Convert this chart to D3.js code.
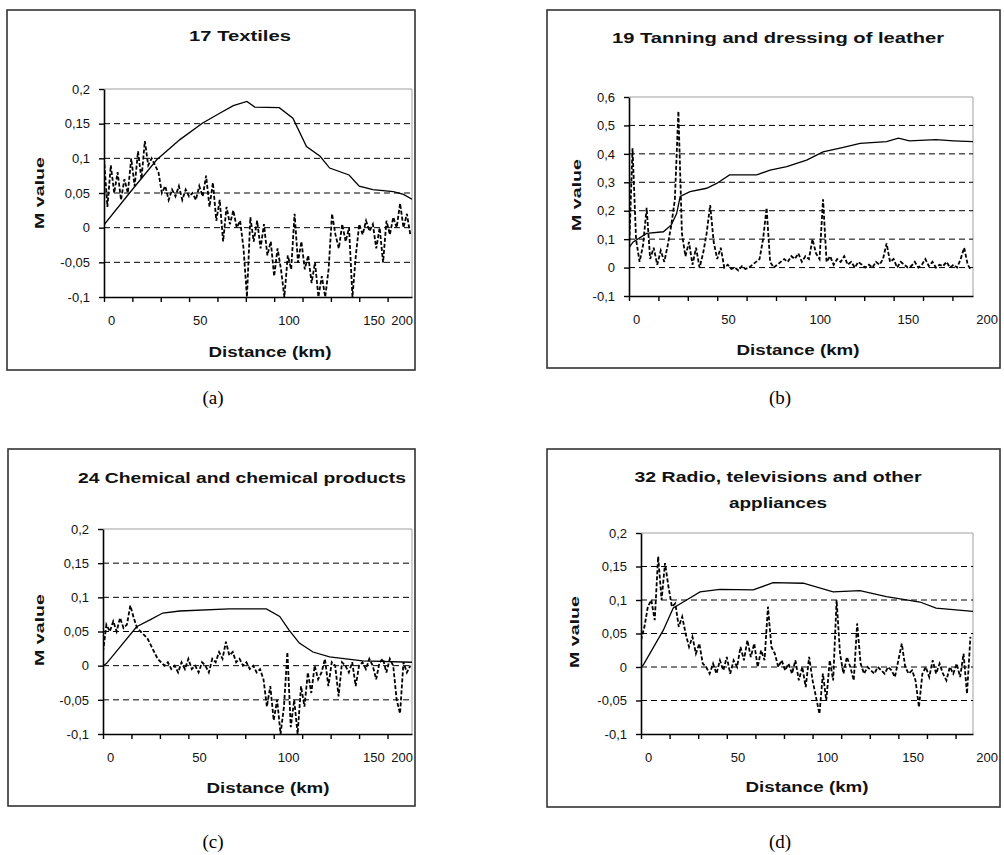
<!DOCTYPE html>
<html>
<head>
<meta charset="utf-8">
<script src="https://cdnjs.cloudflare.com/ajax/libs/d3/7.8.5/d3.min.js"></script>
<style>
  body { margin: 0; background: #fff; }
  svg { display: block; font-family: "Liberation Sans", Arial, sans-serif; }
</style>
</head>
<body>
<svg id="chart" width="1004" height="855"></svg>
<script>
// ---- data ----
// distances (km) of the noisy M value series, one value every 2 km
const noiseKm = d3.range(0, 196, 2);

// solid line: cumulated M value
const solidKmA = [0, 15, 31, 44.6, 58, 68, 76, 84, 88.6, 103, 111, 119, 127, 132.6, 144, 150, 158, 170, 176, 181];
const solidA = [0.004, 0.05, 0.098, 0.127, 0.151, 0.165, 0.176, 0.182, 0.174, 0.173, 0.158, 0.117, 0.103, 0.086, 0.076, 0.06, 0.055, 0.052, 0.048, 0.041];
const noiseA = [0.10, 0.03, 0.09, 0.05, 0.08, 0.04, 0.07, 0.05, 0.10, 0.06,
    0.11, 0.07, 0.125, 0.09, 0.10, 0.09, 0.08, 0.05, 0.06, 0.04,
    0.055, 0.045, 0.06, 0.04, 0.055, 0.045, 0.05, 0.04, 0.06, 0.045,
    0.075, 0.03, 0.065, 0.01, 0.04, -0.02, 0.03, 0.005, 0.025, 0.0,
    0.01, -0.03, -0.10, 0.015, -0.02, 0.01, -0.03, 0.005, -0.04, -0.02,
    -0.07, -0.03, -0.06, -0.1, -0.04, -0.06, 0.02, -0.05, -0.02, -0.06,
    -0.04, -0.08, -0.05, -0.1, -0.07, -0.1, -0.06, 0.02, -0.01, -0.03,
    0.005, -0.02, 0.0, -0.1, -0.04, 0.005, -0.01, 0.01, -0.005, 0.005,
    -0.03, 0.0, -0.05, 0.01, -0.01, 0.015, 0.0, 0.035, 0.0, 0.02,
    -0.01];

const solidKmB = [0, 2.4, 10, 19.5, 24, 27, 29, 34.6, 44, 49.7, 57, 72.4, 80, 89.4, 100.7, 110, 121.5, 131, 146, 152.7, 159, 174, 184, 195];
const solidB = [0.07, 0.09, 0.12, 0.126, 0.15, 0.19, 0.25, 0.267, 0.279, 0.296, 0.326, 0.326, 0.343, 0.355, 0.378, 0.407, 0.423, 0.437, 0.443, 0.455, 0.446, 0.45, 0.446, 0.443];
const noiseB = [0.05, 0.42, 0.1, 0.02, 0.08, 0.21, 0.03, 0.07, 0.01, 0.06,
    0.02, 0.08, 0.15, 0.24, 0.55, 0.12, 0.04, 0.09, 0.01, 0.07,
    0.0, 0.05, 0.12, 0.22, 0.09, 0.03, 0.07, 0.0, 0.01, -0.005,
    0.0, -0.01, 0.005, -0.005, 0.0, 0.01, 0.02, 0.03, 0.1, 0.21,
    0.02, 0.0, 0.01, 0.02, 0.03, 0.02, 0.04, 0.03, 0.05, 0.02,
    0.04, 0.03, 0.1, 0.05, 0.03, 0.24, 0.02, 0.04, 0.01, 0.03,
    0.02, 0.04, 0.01, 0.02, 0.0, 0.02, 0.01, 0.0, 0.01, 0.0,
    0.02, 0.01, 0.03, 0.085, 0.02, 0.03, 0.0, 0.02, 0.01, 0.0,
    0.005, 0.02, 0.0, 0.01, 0.03, 0.005, 0.02, 0.0, 0.01, 0.005,
    0.02, 0.0, 0.01, 0.0, 0.03, 0.07, 0.01, -0.01];

const solidKmC = [0, 2, 19.7, 27.5, 35, 45, 74, 95.7, 103.5, 109, 115, 123, 132.7, 152, 181];
const solidC = [0.0, 0.003, 0.057, 0.067, 0.077, 0.08, 0.083, 0.083, 0.072, 0.052, 0.033, 0.02, 0.013, 0.007, 0.005];
const noiseC = [0.02, 0.06, 0.05, 0.065, 0.05, 0.07, 0.055, 0.06, 0.088, 0.07,
    0.055, 0.05, 0.045, 0.04, 0.03, 0.02, 0.01, 0.005, 0.0, 0.005,
    -0.005, 0.0, -0.01, 0.005, -0.005, 0.01, -0.005, 0.0, -0.01, 0.005,
    0.0, -0.01, 0.01, 0.005, 0.02, 0.01, 0.035, 0.015, 0.02, 0.005,
    0.01, 0.0, 0.005, -0.005, 0.0, -0.01, -0.005, -0.02, -0.06, -0.03,
    -0.08, -0.05, -0.1, -0.06, 0.02, -0.09, -0.05, -0.1, -0.03, -0.06,
    -0.01, -0.04, 0.0, -0.02, -0.01, 0.01, -0.03, 0.005, 0.0, -0.045,
    0.005, 0.0, -0.01, 0.005, -0.03, 0.0, 0.005, -0.005, 0.01, 0.0,
    -0.02, 0.005, 0.01, -0.01, 0.01, 0.0, -0.05, -0.07, 0.005, -0.01,
    0.0];

const solidKmD = [0, 1.3, 13, 18.8, 26.6, 34.4, 46, 65.4, 77, 94.6, 112, 127.6, 143, 162.6, 172, 193.5];
const solidD = [0.0, 0.003, 0.055, 0.088, 0.1, 0.112, 0.116, 0.115, 0.126, 0.125, 0.112, 0.114, 0.105, 0.097, 0.088, 0.083];
const noiseD = [0.04, 0.06, 0.09, 0.1, 0.07, 0.165, 0.1, 0.155, 0.12, 0.09,
    0.095, 0.06, 0.075, 0.05, 0.03, 0.045, 0.02, 0.035, 0.005, 0.0,
    -0.01, 0.005, -0.01, 0.01, -0.005, 0.015, -0.01, 0.01, 0.0, 0.03,
    0.01, 0.04, 0.015, 0.035, 0.0, 0.025, 0.01, 0.09, 0.03, 0.02,
    0.0, 0.01, -0.005, 0.005, -0.01, 0.01, -0.02, 0.0, -0.03, 0.015,
    -0.02, -0.045, -0.07, -0.01, -0.05, 0.01, -0.02, 0.1, 0.02, -0.01,
    0.015, 0.0, -0.02, 0.065, 0.005, -0.01, 0.0, -0.005, -0.01, 0.0,
    -0.005, -0.01, 0.0, -0.005, -0.015, 0.01, 0.035, 0.0, -0.01, -0.005,
    -0.02, -0.06, -0.01, 0.0, -0.015, 0.01, -0.01, 0.005, -0.01, -0.02,
    0.0, -0.01, 0.005, -0.015, 0.02, -0.04, 0.045];

// axis ticks
const yTicksSmall = [-0.1, -0.05, 0, 0.05, 0.1, 0.15, 0.2];
const yTicksLeather = [-0.1, 0, 0.1, 0.2, 0.3, 0.4, 0.5, 0.6];
const xLabels = [0, 50, 100, 150, 200];

// titles
const titleA = ["17 Textiles"];
const titleB = ["19 Tanning and dressing of leather"];
const titleC = ["24 Chemical and chemical products"];
const titleD = ["32 Radio, televisions and other", "appliances"];
const yTitle = "M value";
const xTitle = "Distance (km)";

// ---- layout of each panel ----
const panels = [
    { cap: "(a)", title: titleA, solidKm: solidKmA, solid: solidA, noise: noiseA, yTicks: yTicksSmall, xMax: 181,
      frame: [7, 10, 415, 370], plot: [104, 89, 412, 297],
      tPos: [240, 41], tLen: [102], yt: [39, 193], xt: [270, 357], capPos: [213, 404] },
    { cap: "(b)", title: titleB, solidKm: solidKmB, solid: solidB, noise: noiseB, yTicks: yTicksLeather, xMax: 195,
      frame: [547, 10, 1000, 368], plot: [629, 97, 973, 296],
      tPos: [778, 43], tLen: [332], yt: [576, 195], xt: [798, 355], capPos: [780, 404] },
    { cap: "(c)", title: titleC, solidKm: solidKmC, solid: solidC, noise: noiseC, yTicks: yTicksSmall, xMax: 181,
      frame: [8, 449, 415, 806], plot: [103, 529, 412, 734],
      tPos: [242, 483], tLen: [328], yt: [39, 630], xt: [268, 793], capPos: [213, 848] },
    { cap: "(d)", title: titleD, solidKm: solidKmD, solid: solidD, noise: noiseD, yTicks: yTicksSmall, xMax: 193.5,
      frame: [547, 449, 1000, 807], plot: [641, 533, 973, 734],
      tPos: [778, 482], tLen: [287, 98], yt: [574, 632], xt: [807, 792], capPos: [780, 848] }
];

const locale = d3.formatLocale({ decimal: ",", thousands: ".", grouping: [3], currency: ["", ""], minus: "-" });
const fmt = locale.format("~g");

const svg = d3.select('#chart');

panels.forEach((p, i) => {
    const g = svg.append('g');
    const [L, T, R, B] = p.plot;

    // outer chart frame
    g.append('rect')
        .attr('x', p.frame[0]).attr('y', p.frame[1])
        .attr('width', p.frame[2] - p.frame[0]).attr('height', p.frame[3] - p.frame[1])
        .attr('fill', 'none').attr('stroke', '#333').attr('stroke-width', 1.6);

    const x = d3.scaleLinear().domain([0, p.xMax]).range([L, R]);
    const y = d3.scaleLinear().domain(d3.extent(p.yTicks)).range([B, T]);

    // plot area border (grey top / right)
    g.append('path')
        .attr('d', `M${L},${T}H${R}V${B}`)
        .attr('fill', 'none').attr('stroke', '#a0a0a0').attr('stroke-width', 1);

    // dashed gridlines
    g.selectAll('.grid')
        .data(p.yTicks.slice(1, -1))
        .enter()
        .append('line')
        .attr('x1', L).attr('x2', R)
        .attr('y1', d => y(d)).attr('y2', d => y(d))
        .attr('stroke', '#000').attr('stroke-width', 1)
        .attr('stroke-dasharray', '6 4');

    const clipId = 'clip' + i;
    svg.append('clipPath').attr('id', clipId)
        .append('rect').attr('x', L).attr('y', T - 1).attr('width', R - L).attr('height', B - T + 1);

    const noisePts = p.noise.map((v, k) => [noiseKm[k], v]);
    const line = d3.line().x(d => x(d[0])).y(d => y(d[1]));

    g.append('path')
        .datum(noisePts)
        .attr('clip-path', `url(#${clipId})`)
        .attr('d', line)
        .attr('fill', 'none').attr('stroke', '#000').attr('stroke-width', 1.8)
        .attr('stroke-dasharray', '4 2');

    g.append('path')
        .datum(p.solid.map((v, k) => [p.solidKm[k], v]))
        .attr('clip-path', `url(#${clipId})`)
        .attr('d', line)
        .attr('fill', 'none').attr('stroke', '#000').attr('stroke-width', 1.3);

    // y axis
    const yAxis = d3.axisLeft(y).tickValues(p.yTicks).tickSize(5).tickSizeOuter(0).tickFormat(fmt);
    const ya = g.append('g').attr('transform', `translate(${L},0)`).call(yAxis);
    ya.select('.domain').attr('stroke', '#000').attr('stroke-width', 1.6);
    ya.selectAll('.tick line').attr('stroke', '#000').attr('stroke-width', 1.4);
    ya.selectAll('.tick text')
        .attr('x', -14).attr('font-size', 13).attr('fill', '#111')
        .attr('font-family', '"Liberation Sans", Arial, sans-serif');

    // x axis
    const xAxis = d3.axisBottom(x).tickValues(d3.range(0, p.xMax, 50 / 3)).tickSize(5).tickSizeOuter(0).tickFormat('');
    const xa = g.append('g').attr('transform', `translate(0,${B})`).call(xAxis);
    xa.select('.domain').attr('stroke', '#000').attr('stroke-width', 1.6);
    xa.selectAll('.tick line').attr('stroke', '#000').attr('stroke-width', 1.4);

    xLabels.forEach(v => {
        const t = g.append('text')
            .attr('x', x(v) + 4).attr('y', B + 28)
            .attr('font-size', 13).attr('fill', '#111')
            .text(v);
        const w = t.node().getComputedTextLength();
        if (x(v) + 4 + w > p.frame[2] - 2) t.attr('x', p.frame[2] - 2 - w);
    });

    // titles
    p.title.forEach((s, k) => {
        g.append('text')
            .attr('x', p.tPos[0]).attr('y', p.tPos[1] + k * 26)
            .attr('text-anchor', 'middle')
            .attr('font-size', 15).attr('font-weight', 'bold').attr('fill', '#111')
            .attr('textLength', p.tLen[k]).attr('lengthAdjust', 'spacingAndGlyphs')
            .text(s);
    });

    g.append('text')
        .attr('transform', `translate(${p.yt[0] + 5},${p.yt[1]}) rotate(-90)`)
        .attr('text-anchor', 'middle')
        .attr('font-size', 13).attr('font-weight', 'bold').attr('fill', '#111')
        .attr('textLength', 72).attr('lengthAdjust', 'spacingAndGlyphs')
        .text(yTitle);

    g.append('text')
        .attr('x', p.xt[0]).attr('y', p.xt[1])
        .attr('text-anchor', 'middle')
        .attr('font-size', 14).attr('font-weight', 'bold').attr('fill', '#111')
        .attr('textLength', 123).attr('lengthAdjust', 'spacingAndGlyphs')
        .text(xTitle);

    svg.append('text')
        .attr('x', p.capPos[0]).attr('y', p.capPos[1])
        .attr('text-anchor', 'middle')
        .attr('font-family', '"Liberation Serif", "Times New Roman", serif')
        .attr('font-size', 19).attr('fill', '#000')
        .text(p.cap);
});
</script>
</body>
</html>
